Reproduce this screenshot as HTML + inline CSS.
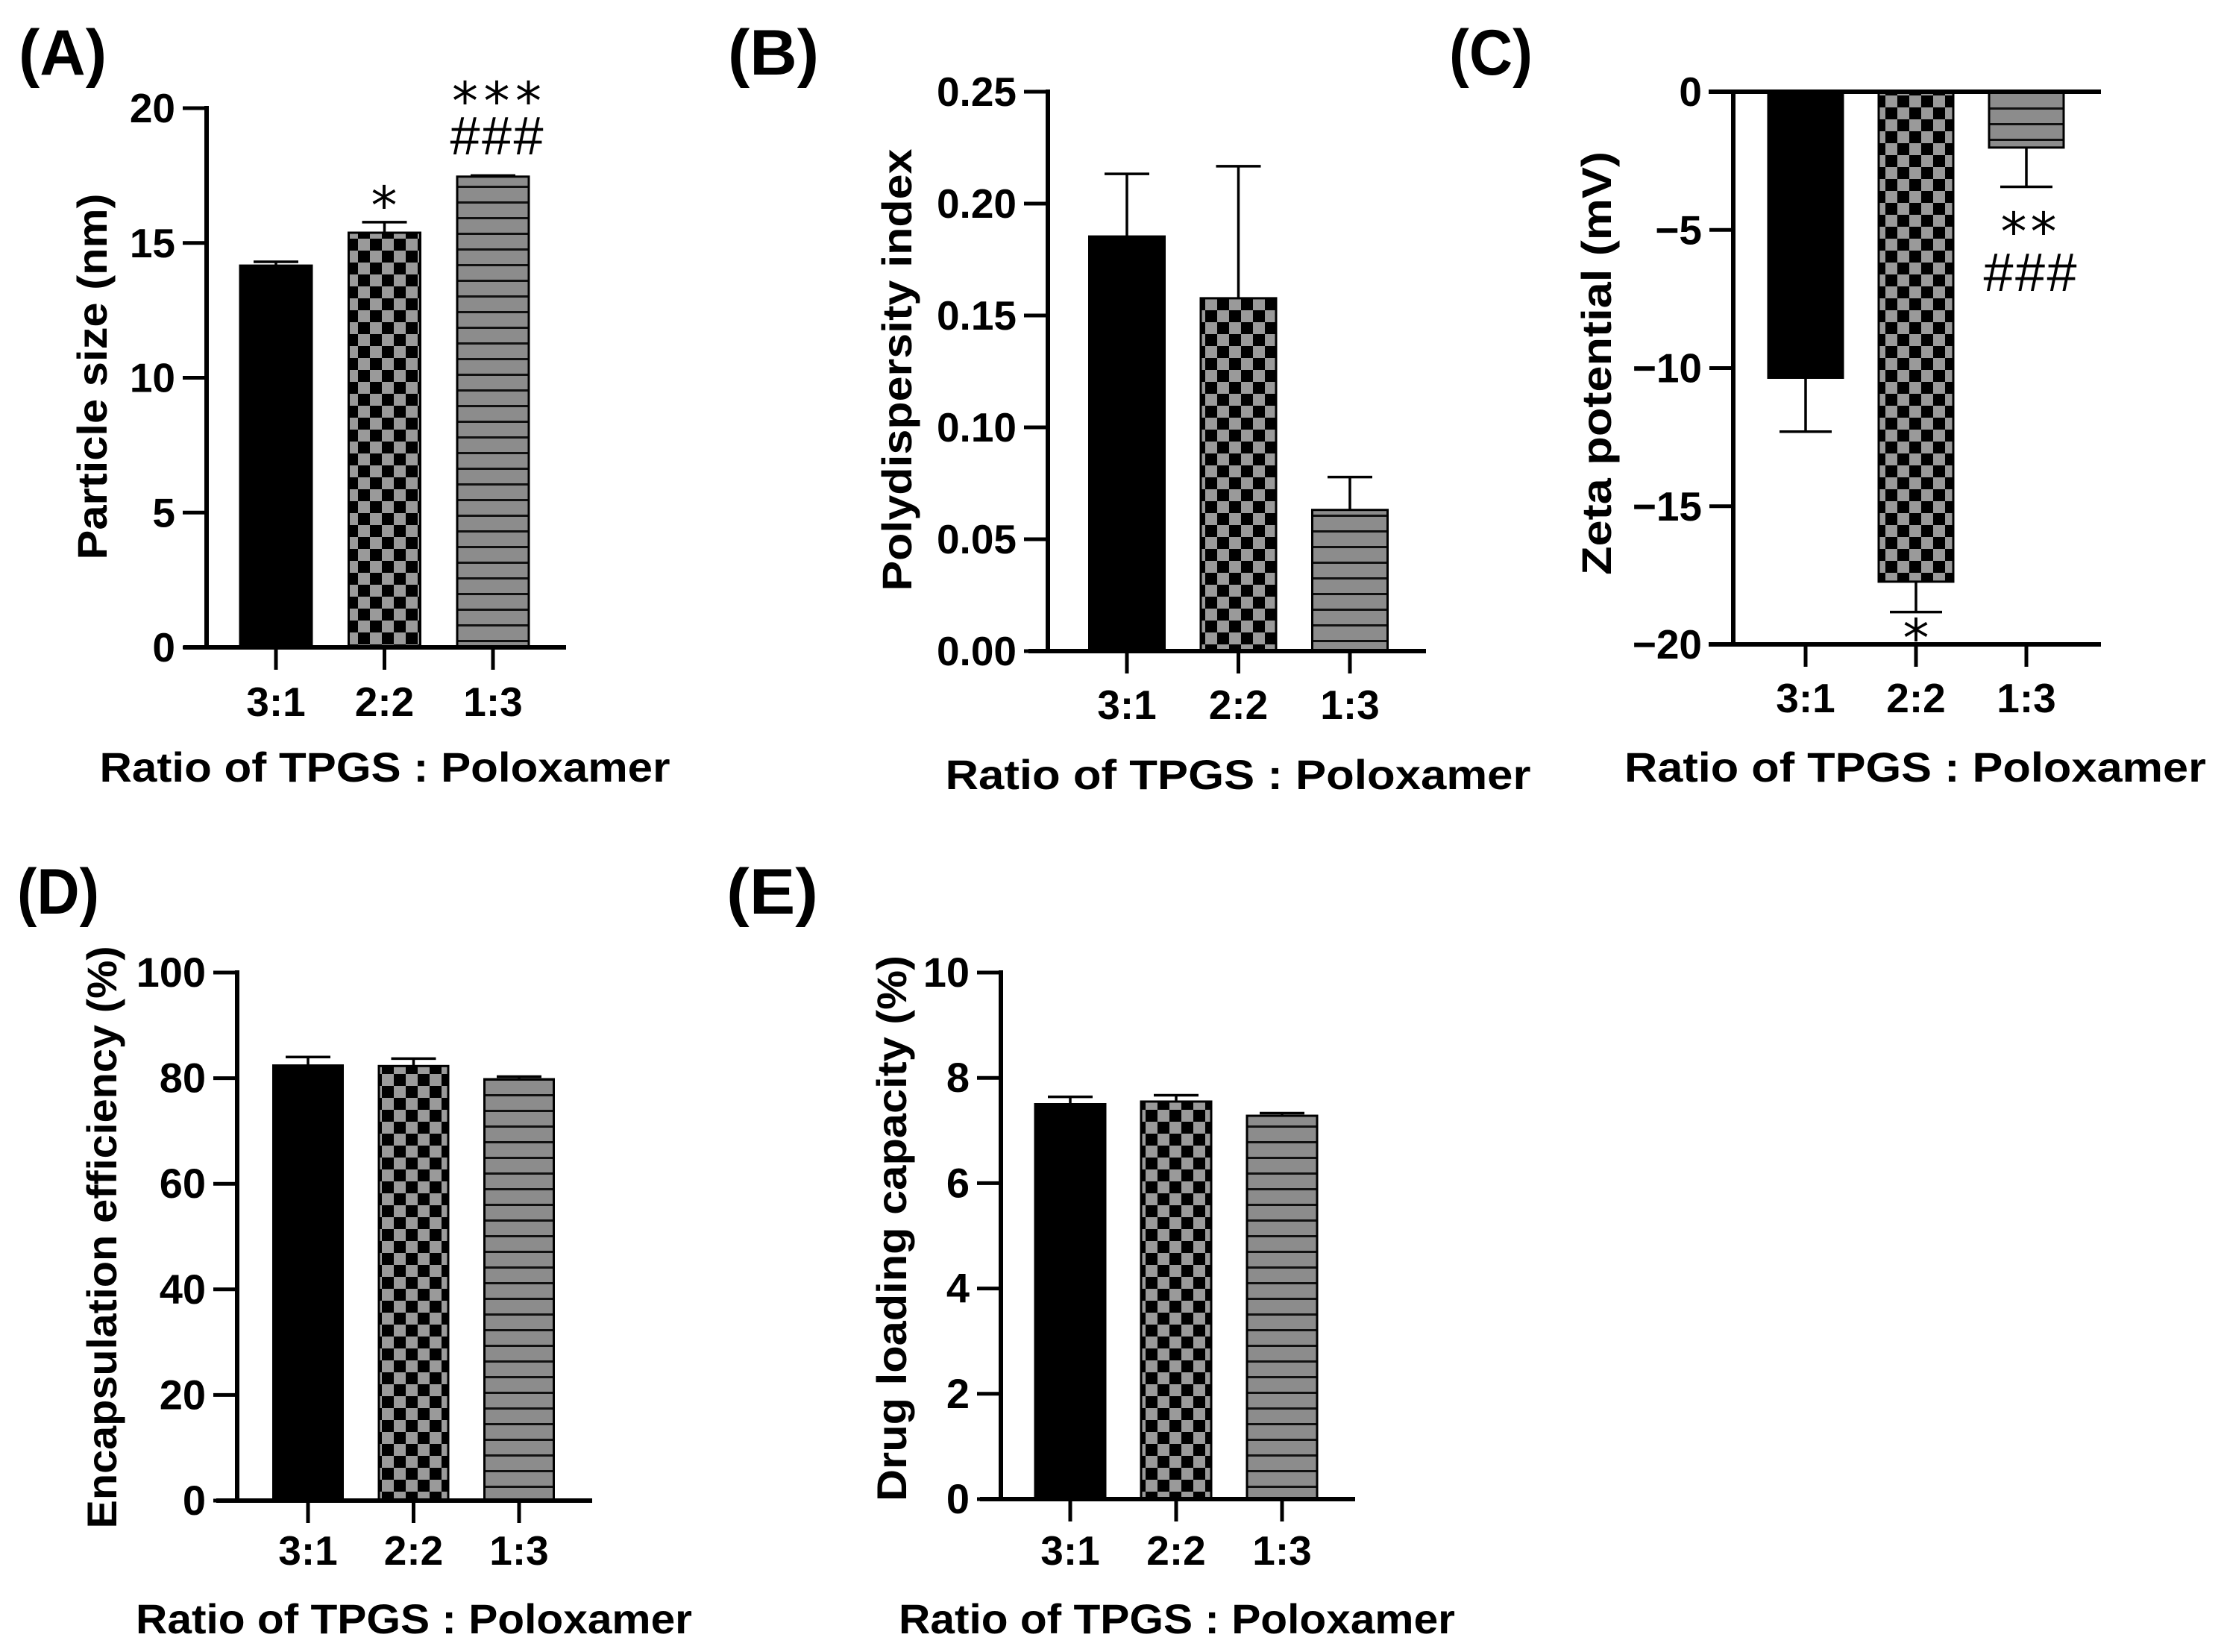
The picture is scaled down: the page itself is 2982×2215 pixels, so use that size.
<!DOCTYPE html>
<html><head><meta charset="utf-8"><style>
html,body{margin:0;padding:0;background:#fff}
svg{display:block;font-family:"Liberation Sans",Arial,sans-serif}
</style></head><body>
<svg id="fig" width="2982" height="2215" viewBox="0 0 2982 2215" xmlns="http://www.w3.org/2000/svg">
<defs>
<pattern id="checker" patternUnits="userSpaceOnUse" width="32" height="32">
<rect width="32" height="32" fill="#000"/>
<rect width="16" height="16" fill="#9a9a9a"/>
<rect x="16" y="16" width="16" height="16" fill="#9a9a9a"/>
</pattern>
<pattern id="stripes" patternUnits="userSpaceOnUse" width="20" height="21">
<rect width="20" height="21" fill="#8c8c8c"/>
<rect y="18" width="20" height="3" fill="#111"/>
</pattern>
</defs>
<g id="root"></g>
</svg>
<script>
const categories = ["3:1","2:2","1:3"];
const sizeVals = [14.16, 15.38, 17.46];
const sizeErr = [0.14, 0.39, 0.04];
const pdiVals = [0.1853, 0.1577, 0.0631];
const pdiErr = [0.028, 0.059, 0.0147];
const zetaVals = [-10.35, -17.73, -2.02];
const zetaErr = [1.95, 1.10, 1.42];
const eeVals = [82.4, 82.3, 79.8];
const eeErr = [1.6, 1.4, 0.5];
const dlcVals = [7.50, 7.55, 7.28];
const dlcErr = [0.14, 0.12, 0.05];
const sizeTicks = [0, 5, 10, 15, 20];
const pdiTicks = [0, 0.05, 0.10, 0.15, 0.20, 0.25];
const pdiTickLabels = ["0.00","0.05","0.10","0.15","0.20","0.25"];
const zetaTicks = [0, -5, -10, -15, -20];
const zetaTickLabels = ["0","\u22125","\u221210","\u221215","\u221220"];
const eeTicks = [0, 20, 40, 60, 80, 100];
const dlcTicks = [0, 2, 4, 6, 8, 10];
const fills = ["#000", "url(#checker)", "url(#stripes)"];

const NS = "http://www.w3.org/2000/svg";
const root = document.getElementById("root");
function mk(tag, attrs, parent) {
  const e = document.createElementNS(NS, tag);
  for (const k in attrs) e.setAttribute(k, attrs[k]);
  (parent || root).appendChild(e);
  return e;
}
function txt(s, attrs, parent) { const t = mk("text", attrs, parent); t.textContent = s; return t; }

function panel(p) {
  const g = mk("g", {});
  
  
  const y = v => p.y0 + (v - p.vmin) / (p.vmax - p.vmin) * (p.y1 - p.y0);
  const xc = i => p.c0 + i * p.step;
  const base = y(0);
  p.vals.forEach((v, i) => {
    const top = Math.min(y(v), base), h = Math.abs(y(v) - base);
    const r = mk("rect", {x: xc(i) - p.bw/2, y: top, width: p.bw, height: h, fill: fills[i], stroke: "#000", "stroke-width": 3}, g);
    
    
    const ye = y(v + Math.sign(v) * p.err[i]);
    const e = mk("path", {d: `M${xc(i)},${y(v)}V${ye}M${xc(i)-p.cap/2},${ye}H${xc(i)+p.cap/2}`, stroke: "#000", "stroke-width": 3.5, fill: "none"}, g);
    
    
  });
  const ya = mk("line", {x1: p.ax, x2: p.ax, y1: Math.min(p.y0,p.y1) - 3, y2: Math.max(p.y0,p.y1) + 3, stroke: "#000", "stroke-width": 6}, g);
  
  
  p.ticks.forEach((t, i) => {
    mk("line", {x1: p.ax - 32, x2: p.ax, y1: y(t), y2: y(t), stroke: "#000", "stroke-width": 5}, g);
    const l = txt(p.tickLabels ? p.tickLabels[i] : String(t), {x: p.ax - 42, y: y(t) + 19, "text-anchor": "end", "font-size": p.tfs, "font-weight": "bold"}, g);
    
    
  });
  const xa = mk("line", {x1: p.xs, x2: p.xe, y1: base, y2: base, stroke: "#000", "stroke-width": 6}, g);
  
  
  const xaxisY = p.xAxisAt !== undefined ? y(p.xAxisAt) : base;
  if (p.xAxisAt !== undefined) mk("line", {x1: p.xs, x2: p.xe, y1: xaxisY, y2: xaxisY, stroke: "#000", "stroke-width": 6}, g);
  categories.forEach((c, i) => {
    mk("line", {x1: xc(i), x2: xc(i), y1: xaxisY, y2: xaxisY + 30, stroke: "#000", "stroke-width": 5}, g);
    const l = txt(c, {x: xc(i), y: p.tly, "text-anchor": "middle", "font-size": 55, "font-weight": "bold"}, g);
    
    
  });
  const xt = txt("Ratio of TPGS : Poloxamer", {x: p.xtx, y: p.xty, "text-anchor": "middle", "font-size": 56, "font-weight": "bold", textLength: p.xtl, lengthAdjust: "spacingAndGlyphs"}, g);
  
  
  const yt = txt(p.ytitle, {x: 0, y: 0, "text-anchor": "middle", "font-size": 56, "font-weight": "bold", textLength: p.ytl, lengthAdjust: "spacingAndGlyphs", transform: `translate(${p.ytx},${p.yty}) rotate(-90)`}, g);
  
  
  const pl = txt(p.letter, {x: p.lx, y: p.ly, "font-size": 86, "font-weight": "bold", textLength: p.ll, lengthAdjust: "spacingAndGlyphs"}, g);
  
  
  (p.notes || []).forEach(n => {
    const attrs = {x: n.x, y: n.y, "text-anchor": "middle", "font-size": n.fs || 62, "font-family": n.ff || "'DejaVu Sans','Liberation Sans',sans-serif"};
    if (n.tl) { attrs.textLength = n.tl; attrs.lengthAdjust = "spacing"; }
    const a = txt(n.s, attrs, g);
    
    
  });
}

panel({name: "panel-a-particle-size", vals: sizeVals, err: sizeErr, vmin: 0, vmax: 20, y0: 868, y1: 145,
  c0: 370, step: 145.5, bw: 96, cap: 60, ax: 277, xs: 246, xe: 759, ticks: sizeTicks, tfs: 55,
  tly: 960, xtx: 516, xty: 1048, xtl: 765, ytitle: "Particle size (nm)", ytl: 491, ytx: 143, yty: 505,
  letter: "(A)", lx: 25, ly: 100, ll: 118,
  notes: [{s: "*", x: 515, y: 300, fs: 70}, {s: "***", x: 666, y: 160, fs: 70, tl: 120},
          {s: "###", x: 666, y: 207, fs: 72, ff: "'Liberation Sans',sans-serif", tl: 125}]});

panel({name: "panel-b-pdi", vals: pdiVals, err: pdiErr, vmin: 0, vmax: 0.25, y0: 873, y1: 123,
  c0: 1511, step: 149.5, bw: 101, cap: 60, ax: 1405, xs: 1379, xe: 1912, ticks: pdiTicks, tickLabels: pdiTickLabels, tfs: 55,
  tly: 964, xtx: 1660, xty: 1058, xtl: 785, ytitle: "Polydispersity index", ytl: 593, ytx: 1222, yty: 496,
  letter: "(B)", lx: 976, ly: 100, ll: 122});

panel({name: "panel-c-zeta", vals: zetaVals, err: zetaErr, vmin: 0, vmax: -20, y0: 123, y1: 864,
  c0: 2421, step: 148, bw: 100, cap: 70, ax: 2324, xs: 2291, xe: 2817, ticks: zetaTicks, tickLabels: zetaTickLabels, tfs: 55,
  xAxisAt: -20, tly: 955, xtx: 2568, xty: 1048, xtl: 780, ytitle: "Zeta potential (mV)", ytl: 568, ytx: 2160, yty: 487,
  letter: "(C)", lx: 1943, ly: 100, ll: 112,
  notes: [{s: "**", x: 2720, y: 335, fs: 70, tl: 75}, {s: "###", x: 2722, y: 390, fs: 72, ff: "'Liberation Sans',sans-serif", tl: 125},
          {s: "*", x: 2569, y: 880, fs: 70}]});

panel({name: "panel-d-encapsulation", vals: eeVals, err: eeErr, vmin: 0, vmax: 100, y0: 2012, y1: 1304,
  c0: 413, step: 141.5, bw: 93, cap: 60, ax: 318, xs: 290, xe: 794, ticks: eeTicks, tfs: 56,
  tly: 2098, xtx: 555, xty: 2190, xtl: 746, ytitle: "Encapsulation efficiency (%)", ytl: 781, ytx: 156, yty: 1659,
  letter: "(D)", lx: 23, ly: 1225, ll: 110});

panel({name: "panel-e-drug-loading", vals: dlcVals, err: dlcErr, vmin: 0, vmax: 10, y0: 2010, y1: 1304,
  c0: 1435, step: 142, bw: 94, cap: 60, ax: 1342, xs: 1314, xe: 1817, ticks: dlcTicks, tfs: 56,
  tly: 2098, xtx: 1578, xty: 2190, xtl: 746, ytitle: "Drug loading capacity (%)", ytl: 732, ytx: 1215, yty: 1647,
  letter: "(E)", lx: 974, ly: 1225, ll: 123});
</script>
</body></html>
